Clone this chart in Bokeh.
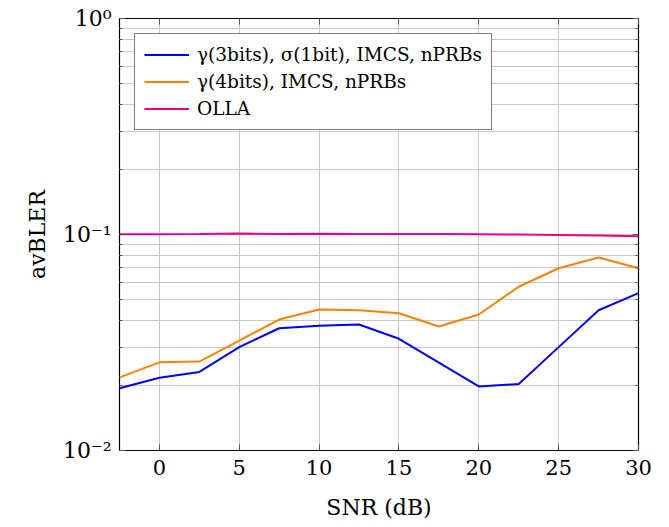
from bokeh.plotting import figure
from bokeh.embed import file_html
from bokeh.resources import INLINE
from bokeh.models import (LinearAxis, LogAxis, FixedTicker, CustomJSTickFormatter,
                          Legend, LegendItem, Range1d)

snr = [-2.5, 0, 2.5, 5, 7.5, 10, 12.5, 15, 17.5, 20, 22.5, 25, 27.5, 30]
bler_3bits = [0.0194, 0.0217, 0.0231, 0.0301, 0.0368, 0.0378, 0.0383, 0.0329,
              0.0255, 0.0198, 0.0203, 0.0301, 0.0446, 0.0535]
bler_4bits = [0.0218, 0.0256, 0.0258, 0.0323, 0.0404, 0.0450, 0.0446, 0.0432,
              0.0375, 0.0426, 0.0573, 0.0698, 0.0783, 0.0698]
bler_olla = [0.1002, 0.1002, 0.1005, 0.1010, 0.1005, 0.1007, 0.1006, 0.1006,
             0.1005, 0.1004, 0.1000, 0.0996, 0.0990, 0.0982]

x_ticks = [0, 5, 10, 15, 20, 25, 30]
y_ticks = [0.01, 0.1, 1.0]
y_minor = [m * d for d in (0.01, 0.1) for m in range(2, 10)]

labels = ["γ(3bits), σ(1bit), IMCS, nPRBs", "γ(4bits), IMCS, nPRBs", "OLLA"]
colors = ["#0000ff", "#ff8000", "#ec008c"]

FONT = "DejaVu Serif"

p = figure(output_backend="svg", toolbar_location=None,
           y_axis_type="log", x_range=Range1d(-2.5, 30), y_range=Range1d(0.01, 1.0),
           min_border_left=119, min_border_right=20, min_border_top=18, min_border_bottom=70,
           frame_width=519, frame_height=432)
p.outline_line_color = "black"
p.outline_line_width = 1.2

sup_js = """
const e = Math.round(Math.log10(tick));
const m = {'-':'\\u207b','0':'\\u2070','1':'\\u00b9','2':'\\u00b2','3':'\\u00b3'};
return '10' + String(e).split('').map(c => m[c]).join('');
"""

xt = FixedTicker(ticks=x_ticks)
yt = FixedTicker(ticks=y_ticks, minor_ticks=y_minor)

p.xaxis.ticker = xt
p.yaxis.ticker = yt
p.yaxis.formatter = CustomJSTickFormatter(code=sup_js)

for ax in [p.xaxis[0], p.yaxis[0]]:
    ax.major_tick_in = 6
    ax.major_tick_out = 0
    ax.minor_tick_in = 3
    ax.minor_tick_out = 0
    ax.axis_line_color = None
    ax.major_label_text_font = FONT
    ax.major_label_text_font_size = "21px"
    ax.major_label_text_color = "black"
    ax.axis_label_text_font = FONT
    ax.axis_label_text_font_size = "22px"
    ax.axis_label_text_font_style = "normal"
    ax.axis_label_text_color = "black"
    ax.major_tick_line_color = "#555555"
    ax.minor_tick_line_color = "#555555"
p.xaxis[0].minor_tick_in = 0
p.xaxis[0].major_label_standoff = 9
p.yaxis[0].major_label_standoff = 8
p.yaxis[0].major_label_text_font_size = "22px"
p.xaxis[0].axis_label = "SNR (dB)"
p.yaxis[0].axis_label = "avBLER"
p.xaxis[0].axis_label_text_font_size = "22px"
p.xaxis[0].axis_label_standoff = 17
p.yaxis[0].axis_label_standoff = 10

blank = "return '';"
top = LinearAxis(ticker=FixedTicker(ticks=x_ticks), major_tick_in=6, major_tick_out=0,
                 minor_tick_in=0, minor_tick_out=0,
                 formatter=CustomJSTickFormatter(code=blank), major_label_standoff=0,
                 axis_line_color=None, major_tick_line_color="#555555")
right = LogAxis(ticker=FixedTicker(ticks=y_ticks, minor_ticks=y_minor), major_tick_in=6,
                major_tick_out=0, minor_tick_in=3, minor_tick_out=0,
                formatter=CustomJSTickFormatter(code=blank), major_label_standoff=0,
                axis_line_color=None,
                major_tick_line_color="#555555", minor_tick_line_color="#555555")
p.add_layout(top, "above")
p.add_layout(right, "right")

p.xgrid.ticker = xt
p.ygrid.ticker = yt
p.xgrid.grid_line_color = "#c8c8c8"
p.ygrid.grid_line_color = "#c8c8c8"
p.ygrid.minor_grid_line_color = "#c8c8c8"

r1 = p.line(snr, bler_3bits, line_color=colors[0], line_width=2)
r2 = p.line(snr, bler_4bits, line_color=colors[1], line_width=2)
r3 = p.line(snr, bler_olla, line_color=colors[2], line_width=2)

legend = Legend(items=[LegendItem(label=labels[0], renderers=[r1]),
                       LegendItem(label=labels[1], renderers=[r2]),
                       LegendItem(label=labels[2], renderers=[r3])],
                location="top_left")
legend.margin = 15
legend.padding = 9
legend.spacing = 4
legend.glyph_width = 45
legend.glyph_height = 23
legend.label_height = 23
legend.label_standoff = 8
legend.label_text_font = FONT
legend.label_text_font_size = "18.5px"
legend.label_text_color = "black"
legend.border_line_color = "black"
legend.border_line_width = 1
legend.background_fill_alpha = 1
p.add_layout(legend, "center")

open("out.html", "w").write(file_html(p, INLINE))
